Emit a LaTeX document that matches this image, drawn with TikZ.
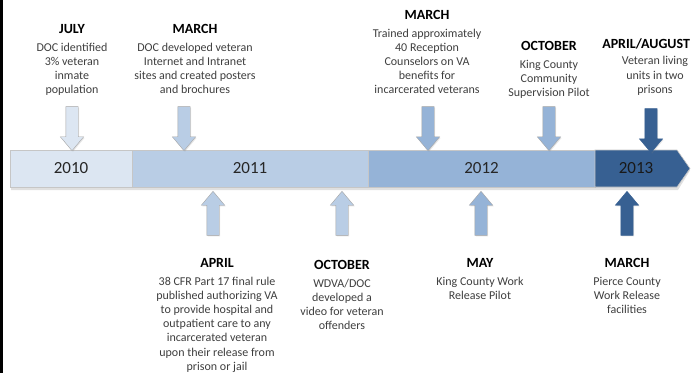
\documentclass[tikz,border=0pt]{standalone}
\usepackage{fontspec}
\setmainfont{Carlito}
\usetikzlibrary{shapes.arrows,shadows}
\definecolor{yrA}{HTML}{DCE6F2}
\definecolor{yrB}{HTML}{B9CDE5}
\definecolor{yrC}{HTML}{95B3D7}
\definecolor{yrD}{HTML}{376092}
\definecolor{txt}{HTML}{3F3F3F}
\newcommand{\evhead}[1]{{\fontsize{14}{16}\selectfont\bfseries\color{black}#1}}

\begin{document}
\begin{tikzpicture}[x=1pt,y=-1pt]
\tikzstyle{every node}=[inner sep=0pt, outer sep=0pt]
\tikzstyle{seg}=[draw=gray!45, line width=0.6pt, minimum height=37pt, font=\fontsize{17}{20}\selectfont, text=black!85]
\tikzstyle{ev}=[anchor=north, align=center, text=txt, font=\fontsize{12}{14.2}\selectfont]
\tikzstyle{blk}=[single arrow, draw=gray!70, text height=12pt, text depth=0pt, minimum height=44pt, single arrow head extend=5.5pt, single arrow tip angle=80, drop shadow={opacity=0.2, shadow xshift=1pt, shadow yshift=-1pt}]
\tikzstyle{dn}=[blk, rotate=270]
\tikzstyle{up}=[blk, rotate=90]
\useasboundingbox (0,0) rectangle (691,373);
\fill[white] (0,0) rectangle (691,373);
\fill[black] (0,0) rectangle (3,373);
\fill[black, opacity=0.12] (11,152) -- (678,152) -- (690,170.5) -- (678,190) -- (11,190) -- cycle;
\draw (71,168.5) node (y2010) [seg, fill=yrA, minimum width=122pt] {2010};
\draw (250,168.5) node (y2011) [seg, fill=yrB, minimum width=236pt] {2011};
\draw (481.5,168.5) node (y2012) [seg, fill=yrC, minimum width=227pt] {2012};
\coordinate (tip) at (690,168.5);
\draw[fill=yrD, draw=gray!45, line width=0.6pt] (y2012.north east) -- (677,150) -- (tip) -- (677,187) -- (y2012.south east) -- cycle;
\draw (636,168.5) node (y2013) [font=\fontsize{17}{20}\selectfont, text=black!90] {2013};
\draw (72,125) node (a1) [dn, fill=yrA] {};
\draw (184,125) node (a2) [dn, fill=yrB] {};
\draw (428,125) node (a3) [dn, fill=yrC] {};
\draw (549,125) node (a4) [dn, fill=yrC] {};
\draw (651,127) node (a5) [dn, fill=yrD, draw=yrD] {};
\draw (213,217) node (b1) [up, fill=yrB] {};
\draw (342,217) node (b2) [up, fill=yrB] {};
\draw (481,217) node (b3) [up, fill=yrC] {};
\draw (627,217) node (b4) [up, fill=yrD, draw=yrD] {};
\draw (72,24.5) node (t1) [ev] {\evhead{JULY}\\[3.3pt]DOC identified\\3\% veteran\\inmate\\population};
\draw (195,24.5) node (t2) [ev] {\evhead{MARCH}\\[3.3pt]DOC developed veteran\\Internet and Intranet\\sites and created posters\\and brochures};
\draw (427,10.5) node (t3) [ev] {\evhead{MARCH}\\[3.3pt]Trained approximately\\40 Reception\\Counselors on VA\\benefits for\\incarcerated veterans};
\draw (549,41.5) node (t4) [ev] {\evhead{OCTOBER}\\[3.3pt]King County\\Community\\Supervision Pilot};
\draw (690,48.5) node (h5) [anchor=base east] {\evhead{APRIL/AUGUST}};
\draw (655,56.6) node (t5) [ev] {Veteran living\\units in two\\prisons};
\draw (217,258.5) node (s1) [ev] {\evhead{APRIL}\\[3.3pt]38 CFR Part 17 final rule\\published authorizing VA\\to provide hospital and\\outpatient care to any\\incarcerated veteran\\upon their release from\\prison or jail};
\draw (342,260.5) node (s2) [ev] {\evhead{OCTOBER}\\[3.3pt]WDVA/DOC\\developed a\\video for veteran\\offenders};
\draw (480,258.5) node (s3) [ev] {\evhead{MAY}\\[3.3pt]King County Work\\Release Pilot};
\draw (627,258.5) node (s4) [ev] {\evhead{MARCH}\\[3.3pt]Pierce County\\Work Release\\facilities};
\end{tikzpicture}
\end{document}
